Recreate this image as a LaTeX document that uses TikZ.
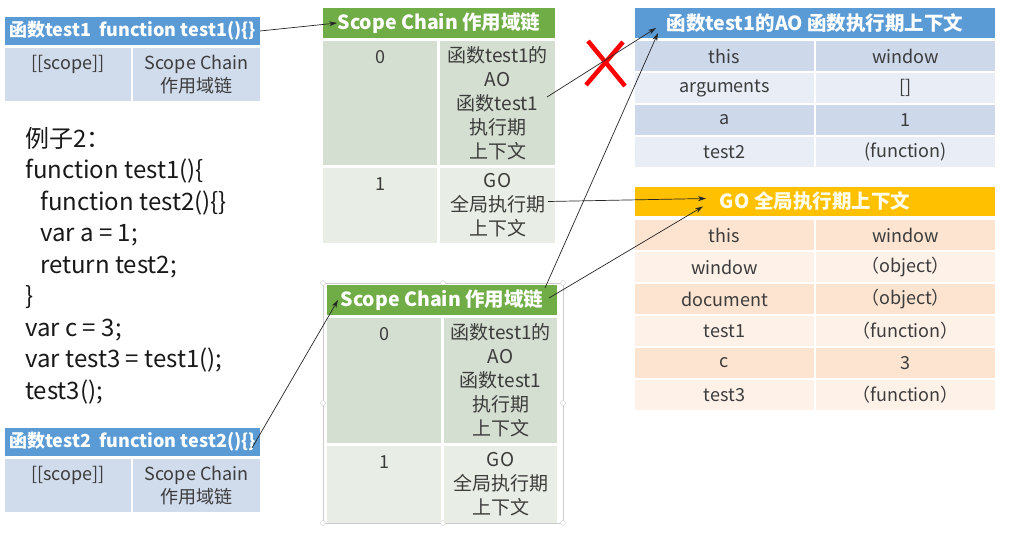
\documentclass[tikz,border=0pt]{standalone}
\usepackage{fontspec}
\setmainfont{Noto Sans CJK SC}
\usetikzlibrary{positioning,arrows.meta}

\definecolor{hdrblue}{HTML}{5B9BD5}
\definecolor{bluecell}{HTML}{D0DBEC}
\definecolor{bluedark}{HTML}{CDD8EA}
\definecolor{bluelight}{HTML}{E8EDF6}
\definecolor{hdrgreen}{HTML}{70AD47}
\definecolor{greendark}{HTML}{D5DFD1}
\definecolor{greenlight}{HTML}{E8EDE5}
\definecolor{hdrorange}{HTML}{FFC000}
\definecolor{orangedark}{HTML}{FCE4D0}
\definecolor{orangelight}{HTML}{FDF1E8}
\definecolor{txtgray}{HTML}{3C3C3C}

\tikzset{
  cell/.style={anchor=north west, inner sep=0pt, outer sep=0pt, text=txtgray,
    align=center, font=\fontsize{18}{23}\selectfont},
  chain/.style={cell, font=\fontsize{19}{24}\selectfont},
  hdr/.style={cell, text=white, font=\bfseries\fontsize{18}{22}\selectfont},
  bighdr/.style={hdr, font=\bfseries\fontsize{19.5}{22}\selectfont},
  num/.style={inner sep=0pt, text=txtgray, font=\fontsize{18}{22}\selectfont},
  link/.style={-{Stealth[length=8pt,width=5pt]}, line width=0.7pt, black!85},
  handle/.style={circle, draw=gray!40, fill=white, inner sep=0pt, minimum size=5pt},
}

\begin{document}
\begin{tikzpicture}[x=1pt,y=-1pt]
	\useasboundingbox[fill=white] (0,0) rectangle (1009,559);

	\node[hdr, fill=hdrblue, minimum width=255pt, minimum height=28pt] (t1h) at (5,17) {函数test1\ \ function test1()\{\}};
	\node[cell, fill=bluecell, minimum width=126pt, minimum height=53pt] (t1s) at (5,48) {};
	\node[num, below=7pt of t1s.north] (t1sl) {[[scope]]};
	\node[cell, fill=bluecell, minimum width=127pt, minimum height=53pt] (t1c) at (133,48) {Scope Chain\\作用域链};

	\node[anchor=north west, inner sep=0pt, text=black!90, align=left, font=\fontsize{24}{31.5}\selectfont] (code) at (25,127) {例子2：\\
		function test1()\{\\
		\hspace*{15pt}function test2()\{\}\\
		\hspace*{15pt}var a = 1;\\
		\hspace*{15pt}return test2;\\
		\}\\
		var c = 3;\\
		var test3 = test1();\\
		test3();};

	\node[hdr, fill=hdrblue, minimum width=255pt, minimum height=28pt] (t2h) at (5,428) {函数test2\ \ function test2()\{\}};
	\node[cell, fill=bluecell, minimum width=126pt, minimum height=53pt] (t2s) at (5,459) {};
	\node[num, below=7pt of t2s.north] (t2sl) {[[scope]]};
	\node[cell, fill=bluecell, minimum width=127pt, minimum height=53pt] (t2c) at (133,459) {Scope Chain\\作用域链};

	\node[bighdr, fill=hdrgreen, minimum width=232pt, minimum height=30pt] (sc1h) at (323,8) {Scope Chain 作用域链};
	\node[cell, fill=greendark, minimum width=114pt, minimum height=124pt] (sc1a0) at (323,41) {};
	\node[num, below=9pt of sc1a0.north] (sc1n0) {0};
	\node[chain, fill=greendark, minimum width=115pt, minimum height=124pt] (sc1b0) at (440,41) {函数test1的\\AO\\函数test1\\执行期\\上下文};
	\node[cell, fill=greenlight, minimum width=114pt, minimum height=75pt] (sc1a1) at (323,168) {};
	\node[num, below=9pt of sc1a1.north] (sc1n1) {1};
	\node[chain, fill=greenlight, minimum width=115pt, minimum height=75pt] (sc1b1) at (440,168) {GO\\全局执行期\\上下文};

	\draw[gray!40, line width=0.6pt] (323,283) rectangle (563,523);
	\node[handle] (hd1) at (323,283) {};
	\node[handle] (hd2) at (443,283) {};
	\node[handle] (hd3) at (563,283) {};
	\node[handle] (hd4) at (323,403) {};
	\node[handle] (hd5) at (563,403) {};
	\node[handle] (hd6) at (323,523) {};
	\node[handle] (hd7) at (443,523) {};
	\node[handle] (hd8) at (563,523) {};

	\node[bighdr, fill=hdrgreen, minimum width=230pt, minimum height=30pt] (sc2h) at (327,285) {Scope Chain 作用域链};
	\node[cell, fill=greendark, minimum width=114pt, minimum height=125pt] (sc2a0) at (327,318) {};
	\node[num, below=9pt of sc2a0.north] (sc2n0) {0};
	\node[chain, fill=greendark, minimum width=113pt, minimum height=125pt] (sc2b0) at (444,318) {函数test1的\\AO\\函数test1\\执行期\\上下文};
	\node[cell, fill=greenlight, minimum width=114pt, minimum height=77pt] (sc2a1) at (327,446) {};
	\node[num, below=9pt of sc2a1.north] (sc2n1) {1};
	\node[chain, fill=greenlight, minimum width=113pt, minimum height=77pt] (sc2b1) at (444,446) {GO\\全局执行期\\上下文};

	\node[bighdr, fill=hdrblue, minimum width=360pt, minimum height=30pt] (aoh) at (635,8) {函数test1的AO 函数执行期上下文};
	\node[cell, fill=bluedark, minimum width=179pt, minimum height=30pt] (aok1) at (635,41) {this};
	\node[cell, fill=bluedark, minimum width=179pt, minimum height=30pt] (aov1) at (816,41) {window};
	\node[cell, fill=bluelight, minimum width=179pt, minimum height=30pt] (aok2) at (635,73) {arguments};
	\node[cell, fill=bluelight, minimum width=179pt, minimum height=30pt] (aov2) at (816,73) {[]};
	\node[cell, fill=bluedark, minimum width=179pt, minimum height=30pt] (aok3) at (635,105) {a};
	\node[cell, fill=bluedark, minimum width=179pt, minimum height=30pt] (aov3) at (816,105) {1};
	\node[cell, fill=bluelight, minimum width=179pt, minimum height=30pt] (aok4) at (635,137) {test2};
	\node[cell, fill=bluelight, minimum width=179pt, minimum height=30pt] (aov4) at (816,137) {(function)};

	\node[bighdr, fill=hdrorange, text=yellow!8, minimum width=360pt, minimum height=29pt] (goh) at (635,187) {GO 全局执行期上下文};
	\node[cell, fill=orangedark, minimum width=179pt, minimum height=30pt] (gok1) at (635,220) {this};
	\node[cell, fill=orangedark, minimum width=179pt, minimum height=30pt] (gov1) at (816,220) {window};
	\node[cell, fill=orangelight, minimum width=179pt, minimum height=30pt] (gok2) at (635,252) {window};
	\node[cell, fill=orangelight, minimum width=179pt, minimum height=30pt] (gov2) at (816,252) {（object）};
	\node[cell, fill=orangedark, minimum width=179pt, minimum height=30pt] (gok3) at (635,284) {document};
	\node[cell, fill=orangedark, minimum width=179pt, minimum height=30pt] (gov3) at (816,284) {（object）};
	\node[cell, fill=orangelight, minimum width=179pt, minimum height=30pt] (gok4) at (635,316) {test1};
	\node[cell, fill=orangelight, minimum width=179pt, minimum height=30pt] (gov4) at (816,316) {（function）};
	\node[cell, fill=orangedark, minimum width=179pt, minimum height=30pt] (gok5) at (635,348) {c};
	\node[cell, fill=orangedark, minimum width=179pt, minimum height=30pt] (gov5) at (816,348) {3};
	\node[cell, fill=orangelight, minimum width=179pt, minimum height=30pt] (gok6) at (635,380) {test3};
	\node[cell, fill=orangelight, minimum width=179pt, minimum height=30pt] (gov6) at (816,380) {（function）};

	\draw[red, line width=4.5pt] (588,41) -- (625,86);
	\draw[red, line width=4.5pt] (623,42) -- (586,85);

	\draw[link] (t1h.east) -- ([xshift=14pt]sc1h.west);
	\draw[link] ([xshift=-8pt,yshift=6pt]sc1b0.east) -- ([xshift=21pt,yshift=-5pt]aoh.west);
	\draw[link] ([xshift=-7pt,yshift=4pt]sc1b1.east) -- ([xshift=71pt,yshift=3pt]goh.west);
	\draw[link] ([xshift=-12pt,yshift=-3pt]sc2h.north east) -- ([xshift=23pt,yshift=-10pt]aoh.west);
	\draw[link] ([xshift=-8pt,yshift=-13pt]sc2h.north east) -- ([xshift=68pt,yshift=-5pt]goh.west);
	\draw[link] ([xshift=-8pt,yshift=-6pt]t2h.east) -- ([xshift=11pt]sc2h.west);
\end{tikzpicture}
\end{document}
